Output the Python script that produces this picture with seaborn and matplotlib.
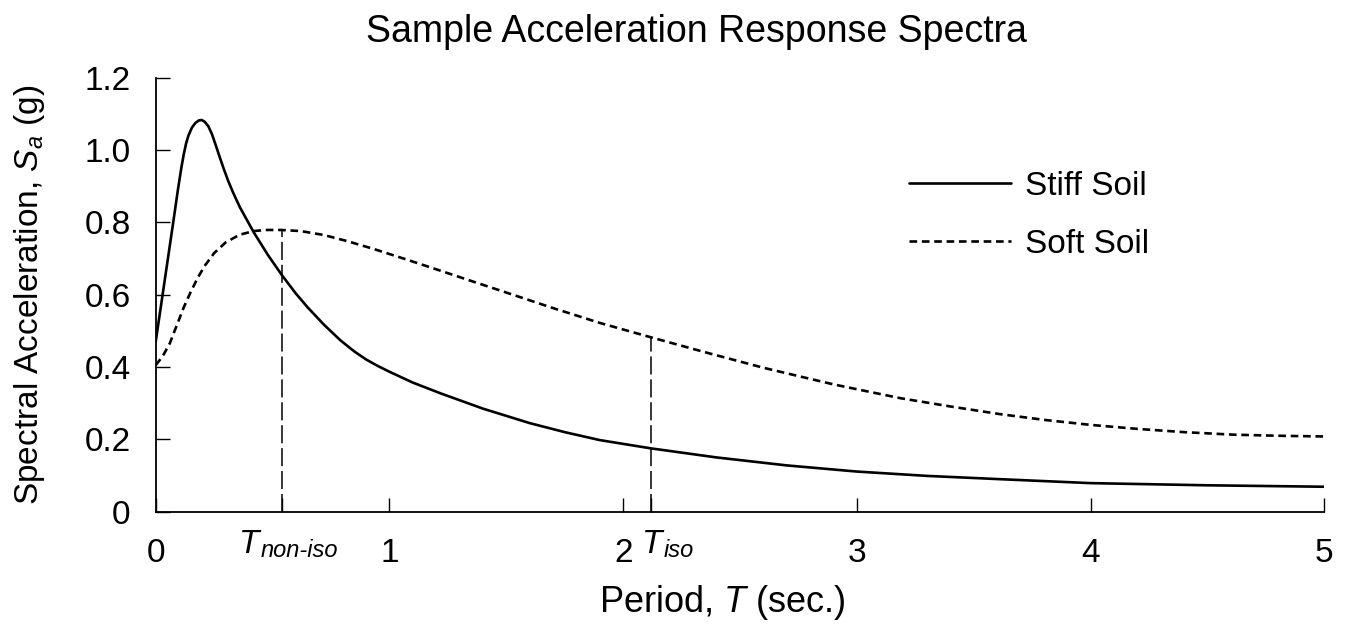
import numpy as np
import pandas as pd
import matplotlib
matplotlib.use("Agg")
import matplotlib.pyplot as plt
import matplotlib.transforms as mtransforms
import seaborn as sns

# ---- data ----
stiff_T = [0.0, 0.025, 0.05, 0.075, 0.095, 0.11, 0.12, 0.13, 0.14, 0.155, 0.17, 0.185,
           0.197, 0.21, 0.225, 0.24, 0.255, 0.27, 0.29, 0.31, 0.33, 0.36, 0.42, 0.48,
           0.54, 0.60, 0.65, 0.72, 0.79, 0.85, 0.90, 0.95, 1.00, 1.10, 1.22, 1.40,
           1.60, 1.75, 1.90, 2.12, 2.40, 2.70, 3.00, 3.30, 3.61, 4.00, 4.50, 5.00]
stiff_Sa = [0.47, 0.58, 0.69, 0.80, 0.89, 0.952, 0.988, 1.018, 1.04, 1.062, 1.075, 1.082,
            1.083, 1.078, 1.066, 1.045, 1.017, 0.988, 0.95, 0.915, 0.884, 0.842, 0.772, 0.71,
            0.654, 0.603, 0.565, 0.517, 0.474, 0.443, 0.421, 0.403, 0.387, 0.357, 0.327, 0.285,
            0.245, 0.22, 0.198, 0.175, 0.15, 0.128, 0.111, 0.099, 0.090, 0.079, 0.073, 0.069]

soft_T = [0.0, 0.03, 0.06, 0.09, 0.12, 0.15, 0.18, 0.21, 0.25, 0.30, 0.36, 0.42,
          0.47, 0.535, 0.62, 0.72, 0.82, 0.93, 1.07, 1.22, 1.35, 1.50, 1.70, 1.90,
          2.12, 2.35, 2.60, 2.90, 3.185, 3.40, 3.61, 3.80, 4.00, 4.20, 4.40, 4.61,
          4.80, 5.00]
soft_Sa = [0.405, 0.43, 0.465, 0.515, 0.565, 0.608, 0.647, 0.68, 0.715, 0.745, 0.766, 0.776,
           0.779, 0.779, 0.776, 0.765, 0.748, 0.727, 0.698, 0.666, 0.638, 0.606, 0.563, 0.522,
           0.482, 0.441, 0.398, 0.352, 0.314, 0.291, 0.270, 0.254, 0.240, 0.229, 0.220, 0.213,
           0.210, 0.208]

marker_T = [0.54, 2.12]          # T_non-iso, T_iso
marker_top = [0.778, 0.482]      # height of the dashed markers (on soft-soil curve)
marker_main = ["T", "T"]
marker_sub = ["non-iso", "iso"]

xticks = [0, 1, 2, 3, 4, 5]
xtick_labels = ["0", "1", "2", "3", "4", "5"]
yticks = [0, 0.2, 0.4, 0.6, 0.8, 1.0, 1.2]
ytick_labels = ["0", "0.2", "0.4", "0.6", "0.8", "1.0", "1.2"]

series_names = ["Stiff Soil", "Soft Soil"]

# ---- style ----
sns.set_theme(style="white")
plt.rcParams["font.family"] = ["Liberation Sans", "DejaVu Sans"]
plt.rcParams["lines.scale_dashes"] = False
plt.rcParams["mathtext.fontset"] = "custom"
plt.rcParams["mathtext.rm"] = "Liberation Sans"
plt.rcParams["mathtext.it"] = "Liberation Sans:italic"

W, H = 1345, 635
fig = plt.figure(figsize=(W / 100, H / 100), dpi=100)
ax = fig.add_axes([155.7 / W, 1 - 511.7 / H, (1324.3 - 155.7) / W, (511.7 - 77.7) / H])

df_stiff = pd.DataFrame({"T": stiff_T, "Sa": stiff_Sa})
df_soft = pd.DataFrame({"T": soft_T, "Sa": soft_Sa})

sns.lineplot(data=df_stiff, x="T", y="Sa", ax=ax, color="black", linewidth=1.9,
             label=series_names[0], sort=False)
sns.lineplot(data=df_soft, x="T", y="Sa", ax=ax, color="black", linewidth=1.9,
             label=series_names[1], sort=False)
ax.lines[1].set_dashes([5.5, 3.4])
for ln in ax.lines:
    ln.set_solid_joinstyle("round")
    ln.set_dash_joinstyle("round")

# vertical marker lines
for t, top in zip(marker_T, marker_top):
    ax.vlines(t, 0, top, colors="black", linewidth=1.1, linestyles=(0, (13, 3.5)))

ax.set_xlim(0, 5)
ax.set_ylim(0, 1.2)
ax.set_xticks(xticks + marker_T)
ax.set_xticklabels(xtick_labels + ["", ""])
ax.set_yticks(yticks)
ax.set_yticklabels(ytick_labels)
ax.tick_params(axis="both", which="major", direction="in", length=10, width=1.0,
               color="black", labelsize=24, labelcolor="black",
               bottom=True, left=True, top=False, right=False)
ax.tick_params(axis="x", pad=19)
ax.tick_params(axis="y", pad=18)
for s in ["top", "right"]:
    ax.spines[s].set_visible(False)
for s in ["left", "bottom"]:
    ax.spines[s].set_color("black")
    ax.spines[s].set_linewidth(1.3)
ax.set_xlabel("")
ax.set_ylabel("")

# T marker labels
trans = mtransforms.blended_transform_factory(ax.transData, fig.transFigure)
label_x = [0.356, 2.08]
fig.canvas.draw()
for lx, main, sub in zip(label_x, marker_main, marker_sub):
    t1 = ax.text(lx, 1 - 553 / H, main, transform=trans, fontsize=24, fontstyle="italic",
                 ha="left", va="baseline", color="black")
    fig.canvas.draw()
    bb = t1.get_window_extent()
    x_end = bb.x1 / W
    fig.text(x_end + 1 / W, 1 - 557 / H, sub, fontsize=17, fontstyle="italic",
             ha="left", va="baseline", color="black")

# legend
leg = ax.legend(loc="upper left", bbox_to_anchor=(909 / W, 1 - 171 / H),
                bbox_transform=fig.transFigure, frameon=False, fontsize=24,
                handlelength=3.05, handletextpad=0.42, labelspacing=0.8,
                borderpad=0, borderaxespad=0)
for t in leg.get_texts():
    t.set_color("black")

# title & axis labels
fig.text(696 / W, 1 - 42 / H, "Sample Acceleration Response Spectra", fontsize=27,
         ha="center", va="baseline", color="black")
fig.text(722 / W, 1 - 612 / H, "Period, $\\mathit{T}$ (sec.)", fontsize=26,
         ha="center", va="baseline", color="black")
fig.text(30 / W, 1 - 295 / H, "Spectral Acceleration, $\\mathit{S_a}$ (g)", fontsize=24,
         ha="center", va="center", rotation=90, color="black")

fig.savefig("out.png", dpi=100, facecolor="white")
